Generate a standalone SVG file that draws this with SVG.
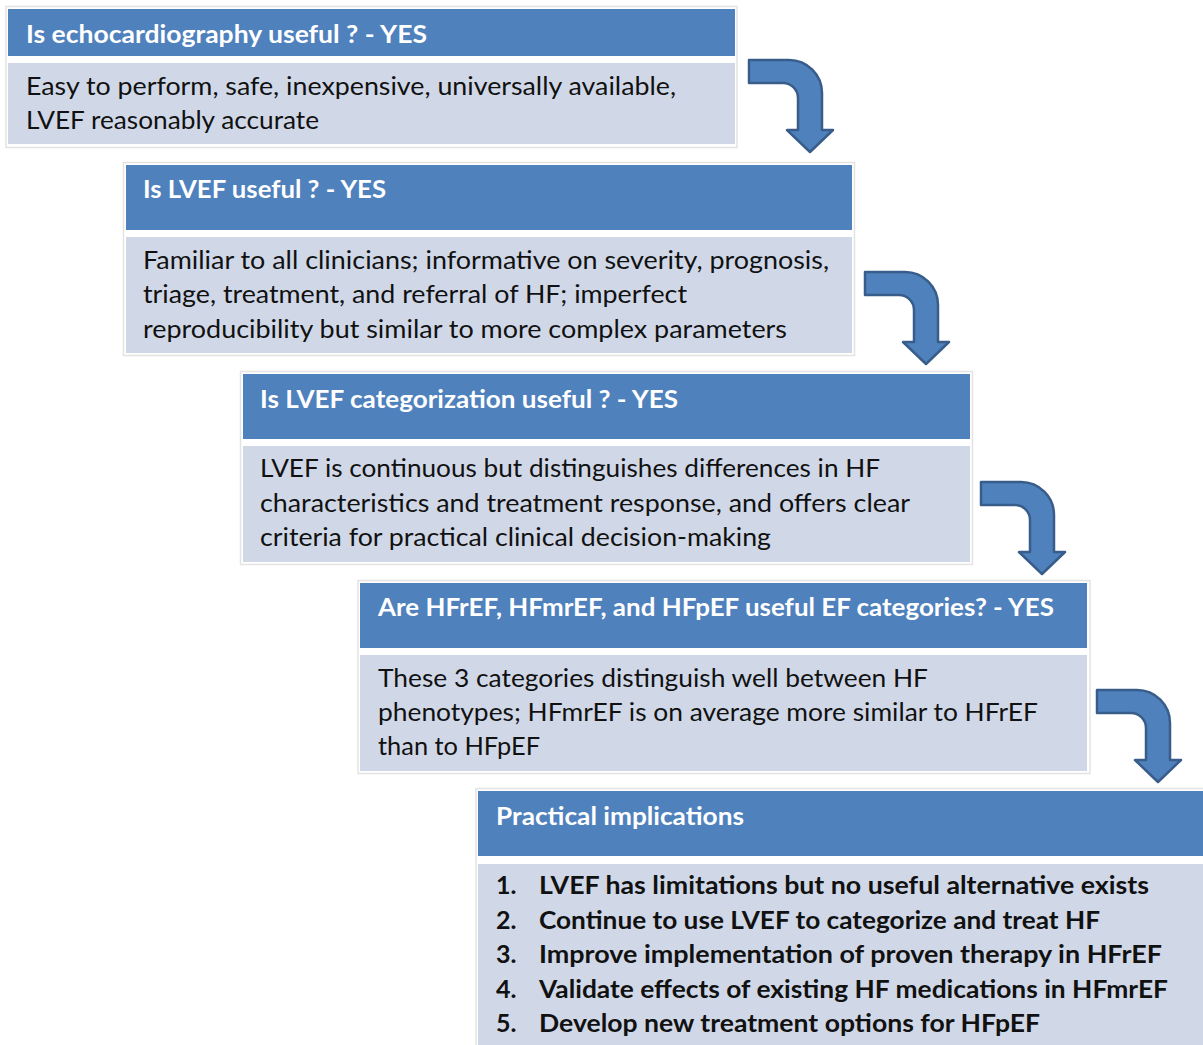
<svg xmlns="http://www.w3.org/2000/svg" width="1203" height="1045" viewBox="0 0 1203 1045">
<style>
.frame{fill:#ffffff;stroke:#e3e3e3;stroke-width:1.5}
.hdr{fill:#4f81bd}
.body{fill:#d0d8e8}
.ht{font-family:Lato,"Open Sans",sans-serif;font-weight:bold;font-size:25px;fill:#ffffff}
.bt{font-family:Lato,"Open Sans",sans-serif;font-size:25px;fill:#111111}
.it{font-family:Lato,"Open Sans",sans-serif;font-weight:bold;font-size:25px;fill:#111111}
.arrow{fill:#4f81bd;stroke:#385d8a;stroke-width:2.5;stroke-linejoin:round}
</style>
<defs>
<path id="bent" d="M0,0 H40 A33,33 0 0 1 73,33 V70 H84 L61,92 L38,70 H49 V38 A15,15 0 0 0 34,23 H0 Z"/>
</defs>
<rect width="1203" height="1045" fill="#ffffff"/>

<g id="node1">
<rect class="frame" x="6" y="6.5" width="731" height="141"/>
<rect class="hdr" x="8" y="9" width="727" height="47"/>
<rect class="body" x="8" y="63" width="727" height="81"/>
<text class="ht" x="26" y="43" textLength="401" lengthAdjust="spacingAndGlyphs">Is echocardiography useful ? - YES</text>
<text class="bt" x="26" y="95" textLength="650" lengthAdjust="spacingAndGlyphs">Easy to perform, safe, inexpensive, universally available,</text>
<text class="bt" x="26" y="129" textLength="293" lengthAdjust="spacingAndGlyphs">LVEF reasonably accurate</text>
</g>

<g id="node2">
<rect class="frame" x="123.5" y="162.5" width="731" height="193"/>
<rect class="hdr" x="126" y="165" width="726" height="65"/>
<rect class="body" x="126" y="237" width="726" height="116"/>
<text class="ht" x="143" y="198" textLength="243" lengthAdjust="spacingAndGlyphs">Is LVEF useful ? - YES</text>
<text class="bt" x="143" y="269" textLength="686" lengthAdjust="spacingAndGlyphs">Familiar to all clinicians; informative on severity, prognosis,</text>
<text class="bt" x="143" y="303" textLength="544" lengthAdjust="spacingAndGlyphs">triage, treatment, and referral of HF; imperfect</text>
<text class="bt" x="143" y="338" textLength="644" lengthAdjust="spacingAndGlyphs">reproducibility but similar to more complex parameters</text>
</g>

<g id="node3">
<rect class="frame" x="240.5" y="371.5" width="732" height="193"/>
<rect class="hdr" x="243" y="374" width="727" height="65"/>
<rect class="body" x="243" y="446" width="727" height="116"/>
<text class="ht" x="260" y="408" textLength="418" lengthAdjust="spacingAndGlyphs">Is LVEF categorization useful ? - YES</text>
<text class="bt" x="260" y="477" textLength="620" lengthAdjust="spacingAndGlyphs">LVEF is continuous but distinguishes differences in HF</text>
<text class="bt" x="260" y="512" textLength="650" lengthAdjust="spacingAndGlyphs">characteristics and treatment response, and offers clear</text>
<text class="bt" x="260" y="546" textLength="511" lengthAdjust="spacingAndGlyphs">criteria for practical clinical decision-making</text>
</g>

<g id="node4">
<rect class="frame" x="358" y="580.5" width="732" height="193"/>
<rect class="hdr" x="360" y="583" width="727" height="65"/>
<rect class="body" x="360" y="655" width="727" height="116"/>
<text class="ht" x="378" y="616" textLength="676" lengthAdjust="spacingAndGlyphs">Are HFrEF, HFmrEF, and HFpEF useful EF categories? - YES</text>
<text class="bt" x="378" y="687" textLength="550" lengthAdjust="spacingAndGlyphs">These 3 categories distinguish well between HF</text>
<text class="bt" x="378" y="721" textLength="660" lengthAdjust="spacingAndGlyphs">phenotypes; HFmrEF is on average more similar to HFrEF</text>
<text class="bt" x="378" y="755" textLength="162" lengthAdjust="spacingAndGlyphs">than to HFpEF</text>
</g>

<g id="node5">
<rect class="frame" x="476" y="788.5" width="740" height="270"/>
<rect class="hdr" x="478" y="791" width="730" height="65"/>
<rect class="body" x="478" y="864" width="730" height="190"/>
<text class="ht" x="496" y="825" textLength="248" lengthAdjust="spacingAndGlyphs">Practical implications</text>
<text class="it" x="496" y="894">1.</text>
<text class="it" x="539" y="894" textLength="610" lengthAdjust="spacingAndGlyphs">LVEF has limitations but no useful alternative exists</text>
<text class="it" x="496" y="929">2.</text>
<text class="it" x="539" y="929" textLength="561" lengthAdjust="spacingAndGlyphs">Continue to use LVEF to categorize and treat HF</text>
<text class="it" x="496" y="963">3.</text>
<text class="it" x="539" y="963" textLength="623" lengthAdjust="spacingAndGlyphs">Improve implementation of proven therapy in HFrEF</text>
<text class="it" x="496" y="998">4.</text>
<text class="it" x="539" y="998" textLength="629" lengthAdjust="spacingAndGlyphs">Validate effects of existing HF medications in HFmrEF</text>
<text class="it" x="496" y="1032">5.</text>
<text class="it" x="539" y="1032" textLength="501" lengthAdjust="spacingAndGlyphs">Develop new treatment options for HFpEF</text>
</g>

<g id="connectors">
<use href="#bent" class="arrow" x="749" y="60"/>
<use href="#bent" class="arrow" x="865" y="272"/>
<use href="#bent" class="arrow" x="981" y="482"/>
<use href="#bent" class="arrow" x="1097" y="690"/>
</g>
</svg>
